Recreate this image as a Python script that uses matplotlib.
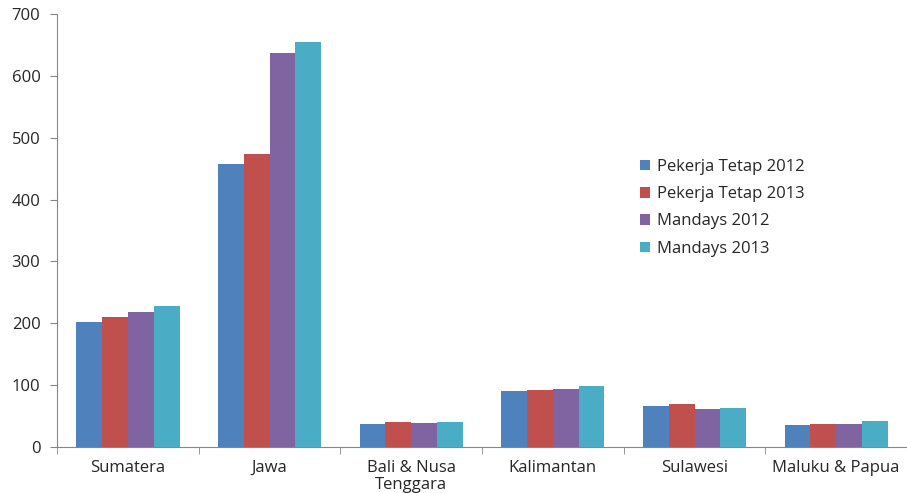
import numpy as np
import matplotlib.pyplot as plt

categories = ["Sumatera", "Jawa", "Bali & Nusa\nTenggara", "Kalimantan", "Sulawesi", "Maluku & Papua"]
series_names = ["Pekerja Tetap 2012", "Pekerja Tetap 2013", "Mandays 2012", "Mandays 2013"]
tetap_2012 = [202, 457, 37, 90, 66, 35]
tetap_2013 = [211, 474, 40, 93, 69, 37]
mandays_2012 = [219, 637, 39, 94, 61, 38]
mandays_2013 = [228, 655, 40, 99, 63, 42]
colors = ["#4F81BD", "#C0504D", "#8064A2", "#4BACC6"]

plt.rcParams['font.family'] = ['Open Sans', 'DejaVu Sans']

fig = plt.figure(figsize=(9.07, 4.93), dpi=100)
ax = fig.add_axes([0.063, 0.093, 0.937, 0.879])

x = np.arange(len(categories))
w = 0.182
for i, (vals, name) in enumerate(zip([tetap_2012, tetap_2013, mandays_2012, mandays_2013], series_names)):
    ax.bar(x + (i - 1.5) * w, vals, w, color=colors[i], label=name)

ax.set_xlim(-0.5, len(categories) - 0.5)
ax.set_ylim(0, 700)
ax.set_yticks(range(0, 701, 100))
ax.set_xticks(x)
ax.set_xticklabels(categories, fontsize=12, color="#262626", linespacing=1.15)
ax.set_xticks(np.arange(-0.5, len(categories) - 0.4, 1), minor=True)
ax.tick_params(axis="x", which="major", length=0, pad=9)
ax.tick_params(axis="x", which="minor", length=5, color="#868686")
ax.tick_params(axis="y", length=5, color="#868686", labelsize=12, labelcolor="#262626", pad=7)

for s in ["top", "right"]:
    ax.spines[s].set_visible(False)
for s in ["left", "bottom"]:
    ax.spines[s].set_color("#868686")

ax.legend(loc="upper left", bbox_to_anchor=(0.668, 0.70), frameon=False, fontsize=12,
          handlelength=0.6, handleheight=0.6, handletextpad=0.4, labelspacing=0.68,
          labelcolor="#262626")

fig.savefig("out.png", dpi=100)
